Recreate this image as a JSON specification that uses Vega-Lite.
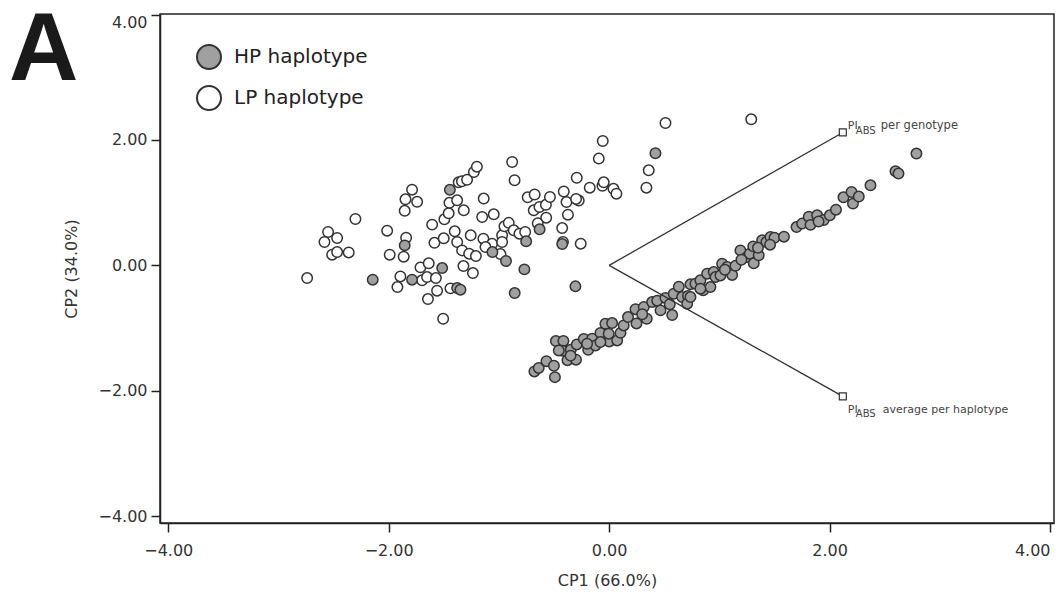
{
  "$schema": "https://vega.github.io/schema/vega-lite/v6.json",
  "width": 894,
  "height": 509,
  "autosize": "none",
  "padding": {"left": 160, "top": 14, "right": 8, "bottom": 72},
  "background": "white",
  "title": {
    "text": "A",
    "anchor": "start",
    "frame": "group",
    "orient": "top",
    "offset": 0,
    "font": "Liberation Sans",
    "fontSize": 96,
    "fontWeight": "bold",
    "color": "#1a1a1a",
    "dx": -151,
    "dy": 86
  },
  "config": {
    "view": {"stroke": "#222", "strokeWidth": 1.5},
    "axis": {
      "grid": false,
      "domainColor": "#222",
      "domainWidth": 1.5,
      "tickColor": "#222",
      "tickWidth": 1.5,
      "tickSize": 9,
      "labelFont": "DejaVu Sans",
      "labelFontSize": 16,
      "labelColor": "#333",
      "labelFlush": 6,
      "titleFont": "DejaVu Sans",
      "titleFontSize": 16,
      "titleFontWeight": "normal",
      "titleColor": "#333"
    },
    "legend": {
      "labelFont": "DejaVu Sans",
      "labelFontSize": 20,
      "labelColor": "#222",
      "symbolSize": 576,
      "symbolType": "circle",
      "symbolStrokeWidth": 2,
      "symbolStrokeColor": "#333",
      "rowPadding": 9,
      "labelOffset": 12,
      "padding": 0
    }
  },
  "encoding": {
    "x": {
      "field": "cp1",
      "type": "quantitative",
      "scale": {"domain": [-4.075, 4.036], "nice": false, "zero": false},
      "axis": {"values": [-4, -2, 0, 2, 4], "format": ".2f", "labelPadding": 10, "title": "CP1 (66.0%)", "titlePadding": 14}
    },
    "y": {
      "field": "cp2",
      "type": "quantitative",
      "scale": {"domain": [-4.11, 4.01], "nice": false, "zero": false},
      "axis": {"values": [-4, -2, 0, 2, 4], "format": ".2f", "labelPadding": 4, "title": "CP2 (34.0%)", "titlePadding": 18}
    }
  },
  "layer": [
    {
      "data": {
        "values": [
          {"cp1": -2.740, "cp2": -0.203, "group": "LP haplotype"},
          {"cp1": -2.302, "cp2": 0.739, "group": "LP haplotype"},
          {"cp1": -2.550, "cp2": 0.532, "group": "LP haplotype"},
          {"cp1": -2.468, "cp2": 0.436, "group": "LP haplotype"},
          {"cp1": -2.583, "cp2": 0.372, "group": "LP haplotype"},
          {"cp1": -2.513, "cp2": 0.171, "group": "LP haplotype"},
          {"cp1": -2.468, "cp2": 0.212, "group": "LP haplotype"},
          {"cp1": -2.363, "cp2": 0.207, "group": "LP haplotype"},
          {"cp1": -2.014, "cp2": 0.554, "group": "LP haplotype"},
          {"cp1": -1.991, "cp2": 0.171, "group": "LP haplotype"},
          {"cp1": -1.788, "cp2": 1.208, "group": "LP haplotype"},
          {"cp1": -1.848, "cp2": 1.053, "group": "LP haplotype"},
          {"cp1": -1.742, "cp2": 1.014, "group": "LP haplotype"},
          {"cp1": -1.855, "cp2": 0.870, "group": "LP haplotype"},
          {"cp1": -1.842, "cp2": 0.442, "group": "LP haplotype"},
          {"cp1": -1.864, "cp2": 0.139, "group": "LP haplotype"},
          {"cp1": -1.894, "cp2": -0.176, "group": "LP haplotype"},
          {"cp1": -1.921, "cp2": -0.346, "group": "LP haplotype"},
          {"cp1": -1.712, "cp2": -0.032, "group": "LP haplotype"},
          {"cp1": -1.637, "cp2": 0.032, "group": "LP haplotype"},
          {"cp1": -1.697, "cp2": -0.239, "group": "LP haplotype"},
          {"cp1": -1.652, "cp2": -0.187, "group": "LP haplotype"},
          {"cp1": -1.572, "cp2": -0.203, "group": "LP haplotype"},
          {"cp1": -1.561, "cp2": -0.404, "group": "LP haplotype"},
          {"cp1": -1.644, "cp2": -0.538, "group": "LP haplotype"},
          {"cp1": -1.506, "cp2": -0.851, "group": "LP haplotype"},
          {"cp1": -1.606, "cp2": 0.650, "group": "LP haplotype"},
          {"cp1": -1.585, "cp2": 0.359, "group": "LP haplotype"},
          {"cp1": -1.501, "cp2": 0.431, "group": "LP haplotype"},
          {"cp1": -1.495, "cp2": 0.734, "group": "LP haplotype"},
          {"cp1": -1.456, "cp2": 0.830, "group": "LP haplotype"},
          {"cp1": -1.449, "cp2": 0.998, "group": "LP haplotype"},
          {"cp1": -1.379, "cp2": 1.037, "group": "LP haplotype"},
          {"cp1": -1.401, "cp2": 0.543, "group": "LP haplotype"},
          {"cp1": -1.379, "cp2": 0.372, "group": "LP haplotype"},
          {"cp1": -1.365, "cp2": 1.325, "group": "LP haplotype"},
          {"cp1": -1.336, "cp2": 1.341, "group": "LP haplotype"},
          {"cp1": -1.440, "cp2": -0.367, "group": "LP haplotype"},
          {"cp1": -1.289, "cp2": 1.365, "group": "LP haplotype"},
          {"cp1": -1.227, "cp2": 1.489, "group": "LP haplotype"},
          {"cp1": -1.200, "cp2": 1.575, "group": "LP haplotype"},
          {"cp1": -1.319, "cp2": 0.878, "group": "LP haplotype"},
          {"cp1": -1.334, "cp2": 0.239, "group": "LP haplotype"},
          {"cp1": -1.270, "cp2": 0.187, "group": "LP haplotype"},
          {"cp1": -1.209, "cp2": 0.148, "group": "LP haplotype"},
          {"cp1": -1.256, "cp2": 0.479, "group": "LP haplotype"},
          {"cp1": -1.322, "cp2": -0.011, "group": "LP haplotype"},
          {"cp1": -1.236, "cp2": -0.123, "group": "LP haplotype"},
          {"cp1": -1.138, "cp2": 1.065, "group": "LP haplotype"},
          {"cp1": -1.152, "cp2": 0.771, "group": "LP haplotype"},
          {"cp1": -1.047, "cp2": 0.814, "group": "LP haplotype"},
          {"cp1": -1.141, "cp2": 0.426, "group": "LP haplotype"},
          {"cp1": -1.062, "cp2": 0.343, "group": "LP haplotype"},
          {"cp1": -0.986, "cp2": 0.180, "group": "LP haplotype"},
          {"cp1": -0.971, "cp2": 0.479, "group": "LP haplotype"},
          {"cp1": -0.950, "cp2": 0.623, "group": "LP haplotype"},
          {"cp1": -0.911, "cp2": 0.678, "group": "LP haplotype"},
          {"cp1": -0.866, "cp2": 0.559, "group": "LP haplotype"},
          {"cp1": -0.814, "cp2": 0.506, "group": "LP haplotype"},
          {"cp1": -0.762, "cp2": 0.532, "group": "LP haplotype"},
          {"cp1": -0.880, "cp2": 1.649, "group": "LP haplotype"},
          {"cp1": -0.858, "cp2": 1.357, "group": "LP haplotype"},
          {"cp1": -0.739, "cp2": 1.085, "group": "LP haplotype"},
          {"cp1": -0.676, "cp2": 1.130, "group": "LP haplotype"},
          {"cp1": -0.684, "cp2": 0.878, "group": "LP haplotype"},
          {"cp1": -0.632, "cp2": 0.931, "group": "LP haplotype"},
          {"cp1": -0.574, "cp2": 0.966, "group": "LP haplotype"},
          {"cp1": -0.537, "cp2": 1.090, "group": "LP haplotype"},
          {"cp1": -0.571, "cp2": 0.761, "group": "LP haplotype"},
          {"cp1": -0.648, "cp2": 0.670, "group": "LP haplotype"},
          {"cp1": -0.426, "cp2": 0.595, "group": "LP haplotype"},
          {"cp1": -0.419, "cp2": 0.372, "group": "LP haplotype"},
          {"cp1": -0.258, "cp2": 0.346, "group": "LP haplotype"},
          {"cp1": -0.374, "cp2": 0.809, "group": "LP haplotype"},
          {"cp1": -0.412, "cp2": 1.178, "group": "LP haplotype"},
          {"cp1": -0.387, "cp2": 1.010, "group": "LP haplotype"},
          {"cp1": -0.294, "cp2": 1.397, "group": "LP haplotype"},
          {"cp1": -0.276, "cp2": 1.033, "group": "LP haplotype"},
          {"cp1": -0.300, "cp2": 1.060, "group": "LP haplotype"},
          {"cp1": -0.176, "cp2": 1.240, "group": "LP haplotype"},
          {"cp1": -0.061, "cp2": 1.269, "group": "LP haplotype"},
          {"cp1": -0.049, "cp2": 1.325, "group": "LP haplotype"},
          {"cp1": 0.039, "cp2": 1.221, "group": "LP haplotype"},
          {"cp1": 0.066, "cp2": 1.144, "group": "LP haplotype"},
          {"cp1": -0.094, "cp2": 1.703, "group": "LP haplotype"},
          {"cp1": -0.058, "cp2": 1.984, "group": "LP haplotype"},
          {"cp1": 0.359, "cp2": 1.516, "group": "LP haplotype"},
          {"cp1": 0.338, "cp2": 1.240, "group": "LP haplotype"},
          {"cp1": 0.511, "cp2": 2.271, "group": "LP haplotype"},
          {"cp1": 1.289, "cp2": 2.330, "group": "LP haplotype"},
          {"cp1": -1.122, "cp2": 0.292, "group": "LP haplotype"},
          {"cp1": -0.971, "cp2": 0.372, "group": "LP haplotype"},
          {"cp1": -2.145, "cp2": -0.228, "group": "HP haplotype"},
          {"cp1": -1.855, "cp2": 0.319, "group": "HP haplotype"},
          {"cp1": -1.788, "cp2": -0.228, "group": "HP haplotype"},
          {"cp1": -1.515, "cp2": -0.043, "group": "HP haplotype"},
          {"cp1": -1.445, "cp2": 1.205, "group": "HP haplotype"},
          {"cp1": -1.379, "cp2": -0.362, "group": "HP haplotype"},
          {"cp1": -1.349, "cp2": -0.388, "group": "HP haplotype"},
          {"cp1": -1.059, "cp2": 0.212, "group": "HP haplotype"},
          {"cp1": -0.936, "cp2": 0.069, "group": "HP haplotype"},
          {"cp1": -0.769, "cp2": -0.064, "group": "HP haplotype"},
          {"cp1": -0.857, "cp2": -0.442, "group": "HP haplotype"},
          {"cp1": -0.753, "cp2": 0.383, "group": "HP haplotype"},
          {"cp1": -0.631, "cp2": 0.575, "group": "HP haplotype"},
          {"cp1": -0.426, "cp2": 0.340, "group": "HP haplotype"},
          {"cp1": -0.306, "cp2": -0.335, "group": "HP haplotype"},
          {"cp1": 0.420, "cp2": 1.788, "group": "HP haplotype"},
          {"cp1": -0.678, "cp2": -1.692, "group": "HP haplotype"},
          {"cp1": -0.639, "cp2": -1.636, "group": "HP haplotype"},
          {"cp1": -0.569, "cp2": -1.528, "group": "HP haplotype"},
          {"cp1": -0.501, "cp2": -1.601, "group": "HP haplotype"},
          {"cp1": -0.492, "cp2": -1.783, "group": "HP haplotype"},
          {"cp1": -0.483, "cp2": -1.208, "group": "HP haplotype"},
          {"cp1": -0.415, "cp2": -1.205, "group": "HP haplotype"},
          {"cp1": -0.424, "cp2": -1.362, "group": "HP haplotype"},
          {"cp1": -0.378, "cp2": -1.512, "group": "HP haplotype"},
          {"cp1": -0.301, "cp2": -1.504, "group": "HP haplotype"},
          {"cp1": -0.348, "cp2": -1.346, "group": "HP haplotype"},
          {"cp1": -0.294, "cp2": -1.261, "group": "HP haplotype"},
          {"cp1": -0.230, "cp2": -1.173, "group": "HP haplotype"},
          {"cp1": -0.190, "cp2": -1.346, "group": "HP haplotype"},
          {"cp1": -0.154, "cp2": -1.170, "group": "HP haplotype"},
          {"cp1": -0.079, "cp2": -1.077, "group": "HP haplotype"},
          {"cp1": -0.034, "cp2": -0.931, "group": "HP haplotype"},
          {"cp1": 0.027, "cp2": -0.921, "group": "HP haplotype"},
          {"cp1": 0.001, "cp2": -1.213, "group": "HP haplotype"},
          {"cp1": 0.073, "cp2": -1.197, "group": "HP haplotype"},
          {"cp1": 0.103, "cp2": -1.077, "group": "HP haplotype"},
          {"cp1": 0.132, "cp2": -0.958, "group": "HP haplotype"},
          {"cp1": 0.171, "cp2": -0.825, "group": "HP haplotype"},
          {"cp1": 0.239, "cp2": -0.699, "group": "HP haplotype"},
          {"cp1": 0.248, "cp2": -0.926, "group": "HP haplotype"},
          {"cp1": 0.314, "cp2": -0.666, "group": "HP haplotype"},
          {"cp1": 0.341, "cp2": -0.851, "group": "HP haplotype"},
          {"cp1": 0.390, "cp2": -0.586, "group": "HP haplotype"},
          {"cp1": 0.436, "cp2": -0.563, "group": "HP haplotype"},
          {"cp1": 0.466, "cp2": -0.718, "group": "HP haplotype"},
          {"cp1": 0.511, "cp2": -0.519, "group": "HP haplotype"},
          {"cp1": 0.572, "cp2": -0.793, "group": "HP haplotype"},
          {"cp1": 0.586, "cp2": -0.452, "group": "HP haplotype"},
          {"cp1": 0.632, "cp2": -0.340, "group": "HP haplotype"},
          {"cp1": 0.662, "cp2": -0.506, "group": "HP haplotype"},
          {"cp1": 0.715, "cp2": -0.487, "group": "HP haplotype"},
          {"cp1": 0.738, "cp2": -0.303, "group": "HP haplotype"},
          {"cp1": 0.708, "cp2": -0.611, "group": "HP haplotype"},
          {"cp1": -0.457, "cp2": -1.357, "group": "HP haplotype"},
          {"cp1": -0.124, "cp2": -1.277, "group": "HP haplotype"},
          {"cp1": -0.004, "cp2": -1.090, "group": "HP haplotype"},
          {"cp1": -0.079, "cp2": -1.224, "group": "HP haplotype"},
          {"cp1": 0.783, "cp2": -0.292, "group": "HP haplotype"},
          {"cp1": 0.828, "cp2": -0.239, "group": "HP haplotype"},
          {"cp1": 0.853, "cp2": -0.399, "group": "HP haplotype"},
          {"cp1": 0.919, "cp2": -0.346, "group": "HP haplotype"},
          {"cp1": 0.889, "cp2": -0.132, "group": "HP haplotype"},
          {"cp1": 0.949, "cp2": -0.107, "group": "HP haplotype"},
          {"cp1": 0.965, "cp2": -0.187, "group": "HP haplotype"},
          {"cp1": 1.010, "cp2": -0.160, "group": "HP haplotype"},
          {"cp1": 1.025, "cp2": 0.027, "group": "HP haplotype"},
          {"cp1": 1.071, "cp2": -0.027, "group": "HP haplotype"},
          {"cp1": 1.116, "cp2": -0.152, "group": "HP haplotype"},
          {"cp1": 1.146, "cp2": -0.008, "group": "HP haplotype"},
          {"cp1": 1.191, "cp2": 0.239, "group": "HP haplotype"},
          {"cp1": 1.252, "cp2": 0.132, "group": "HP haplotype"},
          {"cp1": 1.276, "cp2": 0.187, "group": "HP haplotype"},
          {"cp1": 1.312, "cp2": 0.032, "group": "HP haplotype"},
          {"cp1": 1.307, "cp2": 0.303, "group": "HP haplotype"},
          {"cp1": 1.357, "cp2": 0.160, "group": "HP haplotype"},
          {"cp1": 1.388, "cp2": 0.399, "group": "HP haplotype"},
          {"cp1": 1.427, "cp2": 0.372, "group": "HP haplotype"},
          {"cp1": 1.464, "cp2": 0.452, "group": "HP haplotype"},
          {"cp1": 1.500, "cp2": 0.439, "group": "HP haplotype"},
          {"cp1": 1.586, "cp2": 0.458, "group": "HP haplotype"},
          {"cp1": 1.700, "cp2": 0.611, "group": "HP haplotype"},
          {"cp1": 1.751, "cp2": 0.666, "group": "HP haplotype"},
          {"cp1": 1.811, "cp2": 0.777, "group": "HP haplotype"},
          {"cp1": 1.827, "cp2": 0.646, "group": "HP haplotype"},
          {"cp1": 1.887, "cp2": 0.798, "group": "HP haplotype"},
          {"cp1": 1.947, "cp2": 0.723, "group": "HP haplotype"},
          {"cp1": 2.002, "cp2": 0.798, "group": "HP haplotype"},
          {"cp1": 2.058, "cp2": 0.889, "group": "HP haplotype"},
          {"cp1": 2.126, "cp2": 1.085, "group": "HP haplotype"},
          {"cp1": 2.199, "cp2": 1.170, "group": "HP haplotype"},
          {"cp1": 2.212, "cp2": 0.985, "group": "HP haplotype"},
          {"cp1": 2.265, "cp2": 1.097, "group": "HP haplotype"},
          {"cp1": 2.371, "cp2": 1.277, "group": "HP haplotype"},
          {"cp1": 2.598, "cp2": 1.500, "group": "HP haplotype"},
          {"cp1": 2.625, "cp2": 1.464, "group": "HP haplotype"},
          {"cp1": 2.788, "cp2": 1.783, "group": "HP haplotype"},
          {"cp1": 0.738, "cp2": -0.506, "group": "HP haplotype"},
          {"cp1": 0.828, "cp2": -0.372, "group": "HP haplotype"},
          {"cp1": 0.550, "cp2": -0.620, "group": "HP haplotype"},
          {"cp1": 0.300, "cp2": -0.780, "group": "HP haplotype"},
          {"cp1": -0.200, "cp2": -1.250, "group": "HP haplotype"},
          {"cp1": -0.350, "cp2": -1.440, "group": "HP haplotype"},
          {"cp1": 1.050, "cp2": -0.070, "group": "HP haplotype"},
          {"cp1": 1.200, "cp2": 0.090, "group": "HP haplotype"},
          {"cp1": 1.350, "cp2": 0.280, "group": "HP haplotype"},
          {"cp1": 1.460, "cp2": 0.330, "group": "HP haplotype"},
          {"cp1": 1.900, "cp2": 0.700, "group": "HP haplotype"}
        ]
      },
      "mark": {"type": "point", "shape": "circle", "filled": true, "size": 110, "stroke": "#333", "strokeWidth": 1.5, "opacity": 1},
      "encoding": {
        "fill": {
          "field": "group",
          "type": "nominal",
          "scale": {"domain": ["HP haplotype", "LP haplotype"], "range": ["#a0a0a0", "#ffffff"]},
          "legend": {"title": null, "orient": "none", "legendX": 36, "legendY": 30}
        }
      }
    },
    {
      "data": {"values": [
        {"cp1": 0, "cp2": 0, "cp1e": 2.12, "cp2e": 2.12},
        {"cp1": 0, "cp2": 0, "cp1e": 2.12, "cp2e": -2.09}
      ]},
      "mark": {"type": "rule", "color": "#333", "strokeWidth": 1.3},
      "encoding": {
        "x2": {"field": "cp1e"},
        "y2": {"field": "cp2e"}
      }
    },
    {
      "data": {"values": [
        {"cp1": 2.12, "cp2": 2.12},
        {"cp1": 2.12, "cp2": -2.09}
      ]},
      "mark": {"type": "point", "shape": "square", "size": 49, "filled": true, "fill": "white", "stroke": "#333", "strokeWidth": 1.2, "opacity": 1}
    },
    {
      "data": {"values": [{"cp1": 2.12, "cp2": 2.12, "label": "PI"}]},
      "mark": {"type": "text", "align": "left", "baseline": "alphabetic", "dx": 5, "dy": -3, "font": "DejaVu Sans", "fontSize": 11, "color": "#444"},
      "encoding": {"text": {"field": "label"}}
    },
    {
      "data": {"values": [{"cp1": 2.12, "cp2": 2.12, "label": "ABS"}]},
      "mark": {"type": "text", "align": "left", "baseline": "alphabetic", "dx": 13, "dy": 2, "font": "DejaVu Sans", "fontSize": 10, "color": "#444"},
      "encoding": {"text": {"field": "label"}}
    },
    {
      "data": {"values": [{"cp1": 2.12, "cp2": 2.12, "label": "per genotype"}]},
      "mark": {"type": "text", "align": "left", "baseline": "alphabetic", "dx": 38, "dy": -3, "font": "DejaVu Sans", "fontSize": 11.5, "color": "#444"},
      "encoding": {"text": {"field": "label"}}
    },
    {
      "data": {"values": [{"cp1": 2.12, "cp2": -2.09, "label": "PI"}]},
      "mark": {"type": "text", "align": "left", "baseline": "alphabetic", "dx": 5, "dy": 17, "font": "DejaVu Sans", "fontSize": 11, "color": "#444"},
      "encoding": {"text": {"field": "label"}}
    },
    {
      "data": {"values": [{"cp1": 2.12, "cp2": -2.09, "label": "ABS"}]},
      "mark": {"type": "text", "align": "left", "baseline": "alphabetic", "dx": 13, "dy": 21, "font": "DejaVu Sans", "fontSize": 10, "color": "#444"},
      "encoding": {"text": {"field": "label"}}
    },
    {
      "data": {"values": [{"cp1": 2.12, "cp2": -2.09, "label": "average per haplotype"}]},
      "mark": {"type": "text", "align": "left", "baseline": "alphabetic", "dx": 40, "dy": 17, "font": "DejaVu Sans", "fontSize": 11, "color": "#444"},
      "encoding": {"text": {"field": "label"}}
    }
  ]
}
